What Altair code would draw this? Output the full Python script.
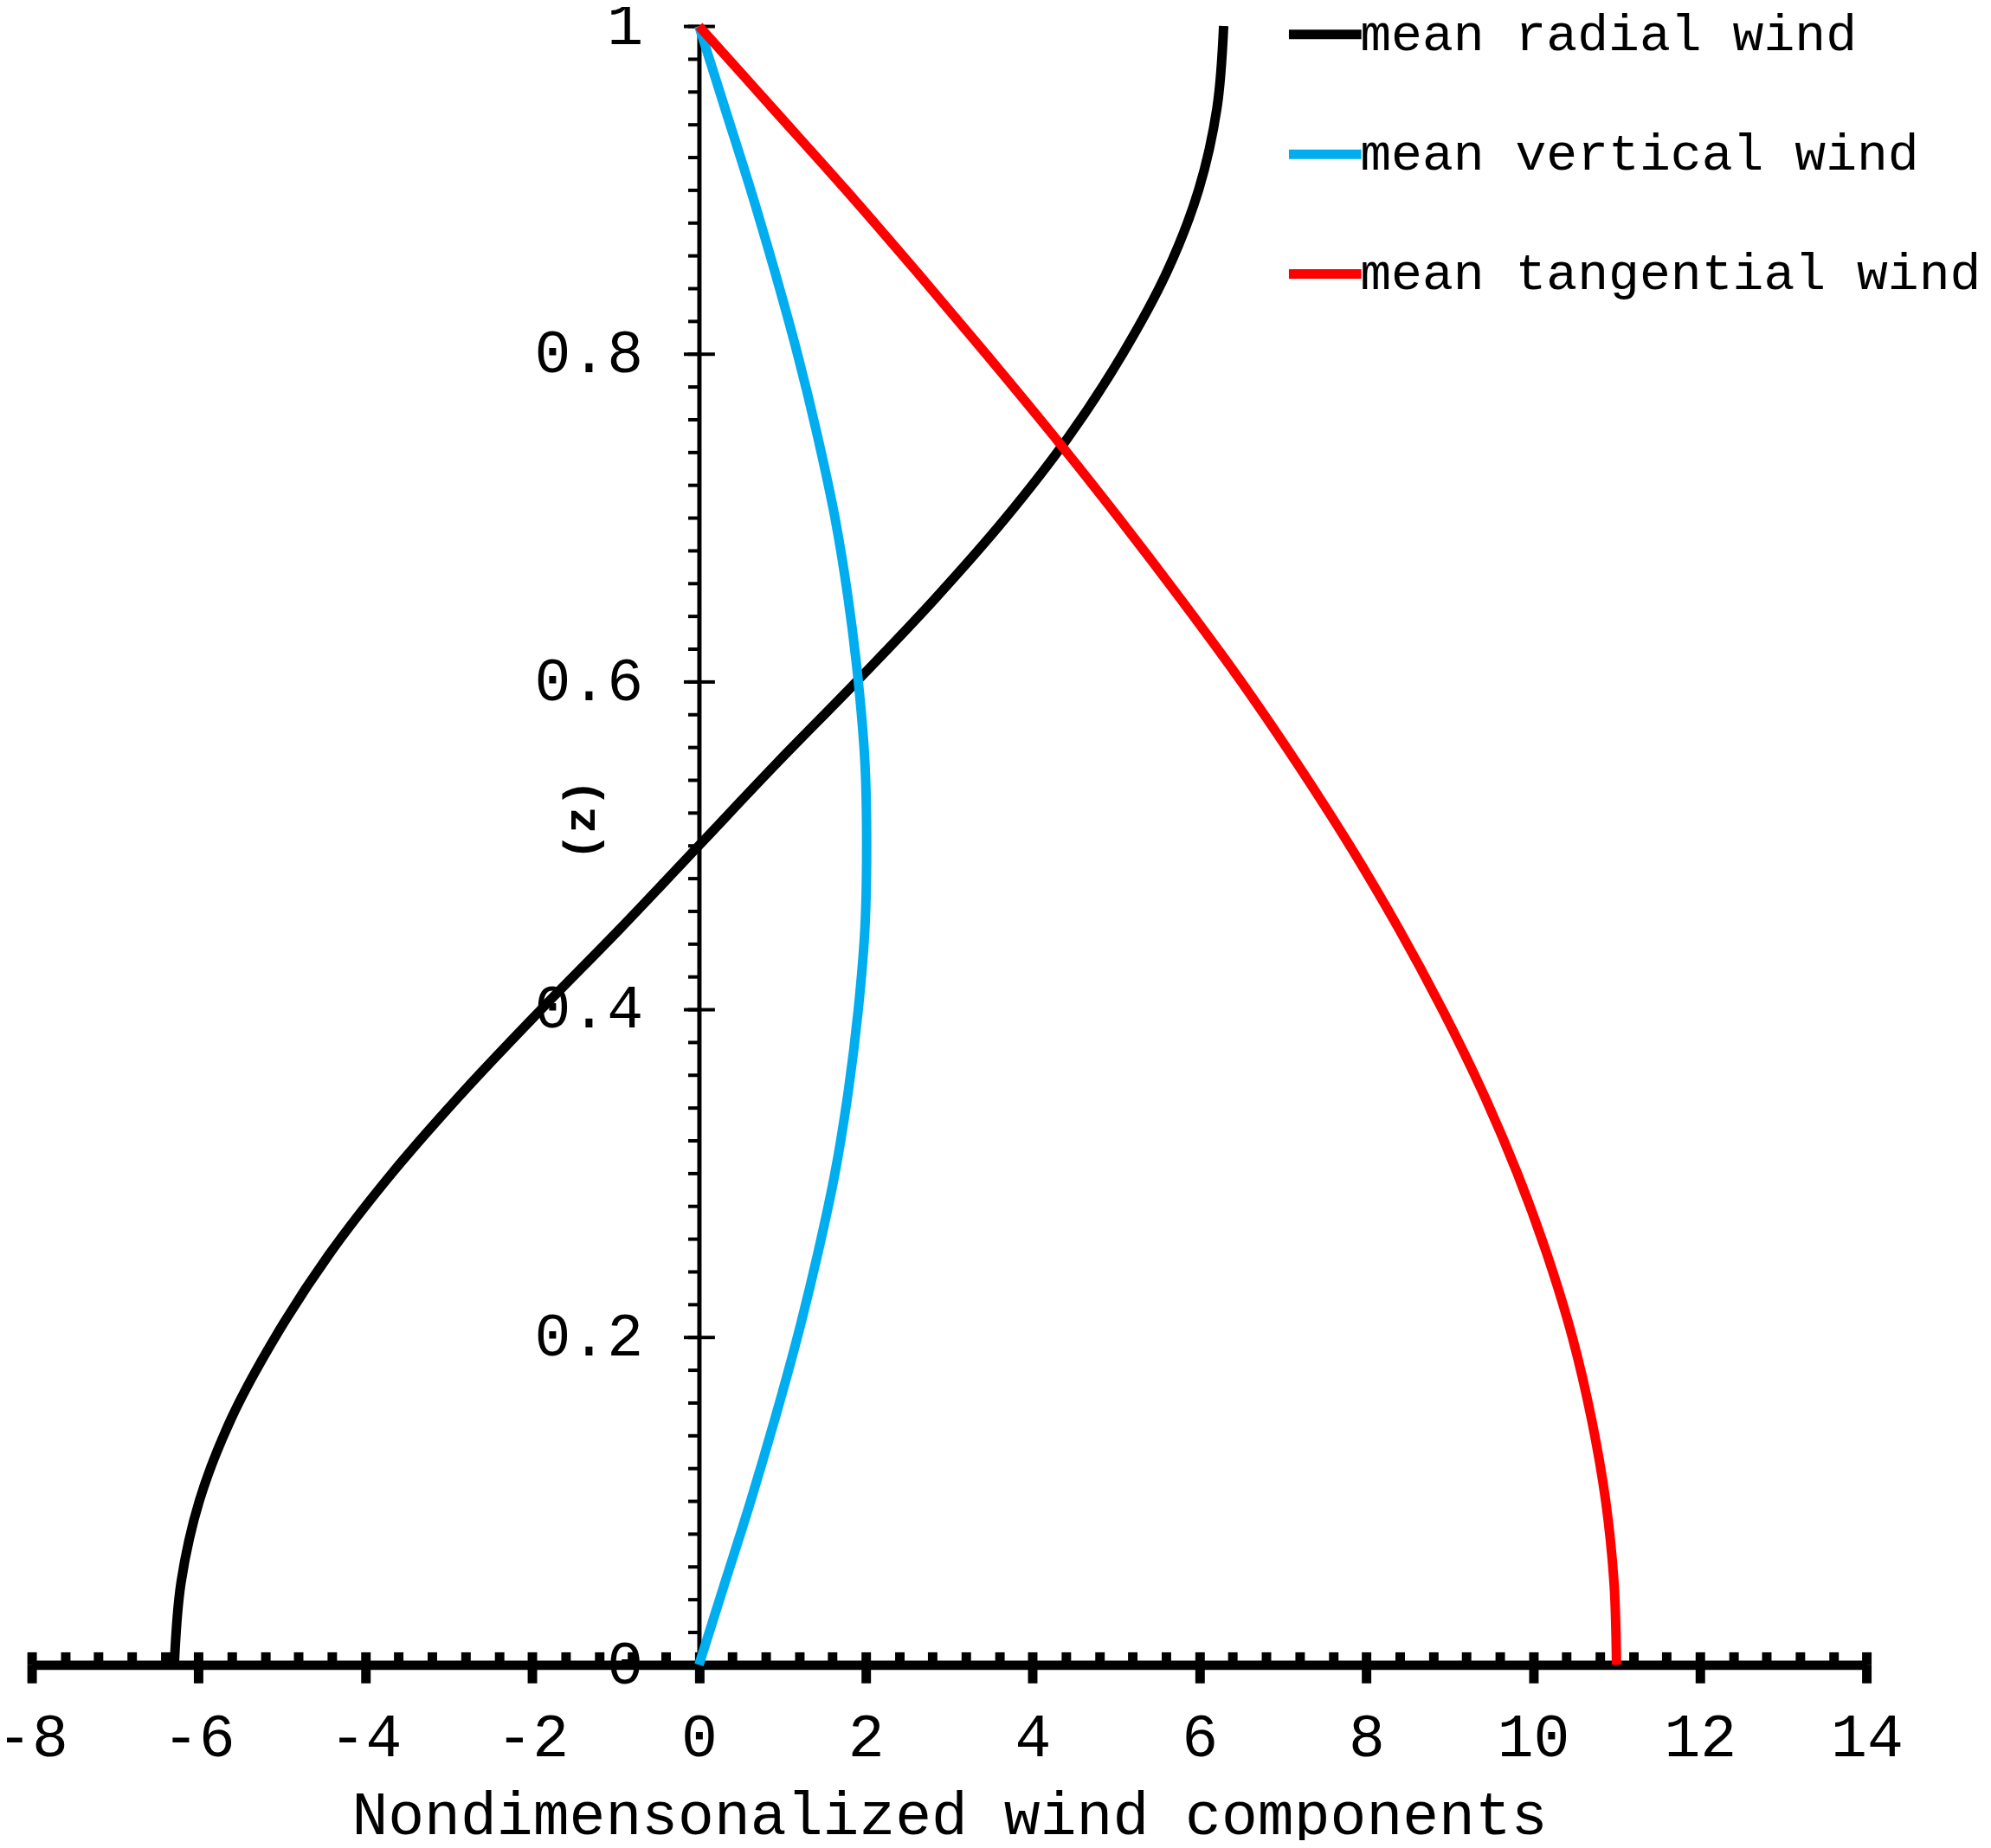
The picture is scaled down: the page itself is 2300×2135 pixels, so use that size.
import altair as alt
import pandas as pd

# ---------------- data ----------------
z_levels = [0.00, 0.05, 0.10, 0.15, 0.20, 0.25, 0.30, 0.35, 0.40, 0.45, 0.50,
            0.55, 0.60, 0.65, 0.70, 0.75, 0.80, 0.85, 0.90, 0.95, 1.00]
radial_wind = [-6.29, -6.21, -5.99, -5.61, -5.08, -4.44, -3.68, -2.82, -1.89, -0.93, 0.00,
               0.93, 1.89, 2.82, 3.68, 4.44, 5.08, 5.61, 5.99, 6.21, 6.29]
vertical_wind = [0.00, 0.31, 0.62, 0.91, 1.18, 1.42, 1.63, 1.79, 1.91, 1.99, 2.01,
                 1.99, 1.91, 1.79, 1.63, 1.42, 1.18, 0.91, 0.62, 0.31, 0.00]
tangential_wind = [11.00, 10.97, 10.87, 10.70, 10.47, 10.17, 9.81, 9.39, 8.91, 8.38, 7.80,
                   7.17, 6.50, 5.78, 5.03, 4.25, 3.44, 2.61, 1.76, 0.88, 0.00]

series_names = ["mean radial wind", "mean vertical wind", "mean tangential wind"]
series_colors = ["#000000", "#00AEEF", "#FF0000"]

x_tick_values = [-8, -6, -4, -2, 0, 2, 4, 6, 8, 10, 12, 14]
y_tick_values = [0, 0.2, 0.4, 0.6, 0.8, 1]
x_minor_ticks = [round(-8 + 0.4 * i, 1) for i in range(56)]
y_minor_ticks = [round(0.02 * i, 2) for i in range(51)]

rows = []
for name, vals in zip(series_names, [radial_wind, vertical_wind, tangential_wind]):
    for z, v in zip(z_levels, vals):
        rows.append({"series": name, "z": z, "v": v})
df = pd.DataFrame(rows)

# ---------------- layout ----------------
FONT = "Courier New, Liberation Mono, monospace"
W = 2127.4
H = 1900
X0 = W * 8 / 22  # pixel position of v = 0

xscale = alt.Scale(domain=[-8, 14], nice=False, zero=False)
yscale = alt.Scale(domain=[0, 1], nice=False, zero=False)

lines = alt.Chart(df).mark_line(strokeWidth=11, interpolate="catmull-rom").encode(
    x=alt.X("v:Q", scale=xscale, axis=alt.Axis(
        orient="bottom", values=x_tick_values, grid=False,
        domainWidth=11, domainColor="black",
        tickColor="black", tickWidth=11, tickSize=21,
        labelFont=FONT, labelFontSize=70, labelColor="black", labelPadding=30,
        labelFlush=False, labelOverlap=False, labelExpr="'' + datum.value",
        title="Nondimensonalized wind components", titleFont=FONT, titleFontSize=70,
        titleFontWeight="normal", titleColor="black", titlePadding=21)),
    y=alt.Y("z:Q", scale=yscale, axis=alt.Axis(
        orient="left", offset=-X0, values=y_minor_ticks, grid=False,
        domainWidth=5, domainColor="black",
        tickColor="black", tickWidth=4, tickSize=13, labels=False,
        title="(z)", titleFont=FONT, titleFontSize=52, titleFontWeight="bold",
        titleColor="black", titleX=-137, titleY=920, titleAngle=270,
        titleAlign="center", titleBaseline="middle")),
    color=alt.Color("series:N", scale=alt.Scale(domain=series_names, range=series_colors),
                    legend=alt.Legend(title=None, orient="none", legendX=1452, legendY=-37.7,
                                      direction="vertical", symbolType="stroke",
                                      symbolSize=7056, symbolStrokeWidth=11,
                                      labelFont=FONT, labelFontSize=60, labelColor="black",
                                      labelOffset={"expr": "-7"}, rowPadding=60.8, padding=0,
                                      labelLimit=0)),
    order=alt.Order("z:Q"),
)

aux1 = alt.Chart(df).mark_point(opacity=0).encode(
    x=alt.X("v:Q", scale=xscale, axis=alt.Axis(
        orient="top", offset=-H, values=x_minor_ticks, domain=False, labels=False,
        tickSize=15, tickWidth=11, tickColor="black", title=None, grid=False)),
    y=alt.Y("z:Q", scale=yscale, axis=alt.Axis(
        orient="left", offset=-X0, values=y_tick_values, domain=False,
        tickSize=18, tickWidth=4, tickColor="black",
        labelFont=FONT, labelFontSize=70, labelColor="black", labelPadding=47,
        labelOverlap=False, labelExpr="'' + datum.value", title=None, grid=False)),
)

aux2 = alt.Chart(df).mark_point(opacity=0).encode(
    x=alt.X("v:Q", scale=xscale, axis=None),
    y=alt.Y("z:Q", scale=yscale, axis=alt.Axis(
        orient="right", offset=-(W - X0), values=y_tick_values, domain=False, labels=False,
        tickSize=18, tickWidth=4, tickColor="black", title=None, grid=False)),
)

chart = alt.layer(aux1, aux2, lines).resolve_axis(
    x="independent", y="independent"
).properties(
    width=W, height=H,
    autosize=alt.AutoSizeParams(type="none"),
    padding={"left": 28.7, "top": 18.4, "right": 136, "bottom": 200},
    background="white",
).configure_view(stroke=None)

chart.save("out.html", embed_options={"renderer": "svg", "actions": False})
